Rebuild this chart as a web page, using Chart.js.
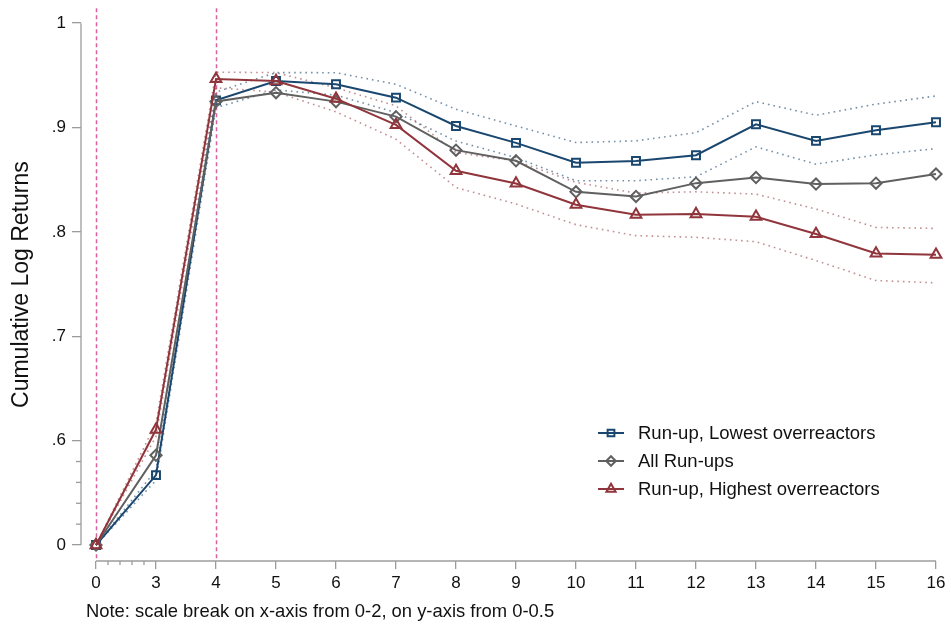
<!DOCTYPE html>
<html><head><meta charset="utf-8">
<script src="https://cdn.jsdelivr.net/npm/chart.js@4.4.0/dist/chart.umd.min.js"></script>
<style>html,body{margin:0;padding:0;background:#fff;}canvas{display:block;}</style>
</head><body>
<canvas id="c" width="951" height="624"></canvas>
<script>
// ---- data (x categories: event days; scale break between 0 and 2) ----
const xLabels = ['0','3','4','5','6','7','8','9','10','11','12','13','14','15','16'];
const lowest      = [0, 0.567, 0.926, 0.9445, 0.9414, 0.9286, 0.9015, 0.8853, 0.8662, 0.868, 0.8735, 0.9031, 0.8872, 0.8974, 0.905];
const lowestUpper = [0, 0.572, 0.934, 0.9526, 0.9525, 0.9414, 0.9175, 0.9015, 0.8856, 0.8872, 0.8951, 0.9248, 0.9118, 0.9224, 0.9302];
const lowestLower = [0, 0.562, 0.919, 0.936, 0.931, 0.9143, 0.887, 0.8712, 0.849, 0.849, 0.8528, 0.8815, 0.8649, 0.8738, 0.8798];
const allRunups   = [0, 0.586, 0.925, 0.9334, 0.9248, 0.9104, 0.8783, 0.8681, 0.8384, 0.834, 0.8467, 0.8521, 0.8458, 0.8467, 0.8554];
const highest      = [0, 0.6106, 0.9465, 0.9445, 0.9276, 0.9025, 0.8585, 0.8464, 0.826, 0.8164, 0.8171, 0.8145, 0.798, 0.7794, 0.7782];
const highestUpper = [0, 0.617, 0.953, 0.9526, 0.938, 0.9207, 0.876, 0.868, 0.8474, 0.8372, 0.8384, 0.8362, 0.8219, 0.8043, 0.8033];
const highestLower = [0, 0.604, 0.938, 0.934, 0.915, 0.8888, 0.8425, 0.8267, 0.8069, 0.7964, 0.7948, 0.7906, 0.7725, 0.7534, 0.7512];
const yTickValues = [0, 0.6, 0.7, 0.8, 0.9, 1];
const yTickLabels = ['0', '.6', '.7', '.8', '.9', '1'];
const xRefLines = ['0', '4'];
const seriesNames = ['Run-up, Lowest overreactors', 'All Run-ups', 'Run-up, Highest overreactors'];
const noteText = 'Note: scale break on x-axis from 0-2, on y-axis from 0-0.5';

// y scale break: values in [0, 0.5) are drawn at the break point 0.5
const Y_BREAK = 0.5;
const yb = v => (v < Y_BREAK ? Y_BREAK + v : v);
const pts = arr => arr.map((v, i) => ({x: i, y: yb(v)}));

const BLUE = '#1a476f', GRAY = '#606060', RED = '#90353b';
const BLUE_CI = 'rgba(26,71,111,0.6)', RED_CI = 'rgba(144,53,59,0.55)';
const AXIS = '#9c9c9c';
const FONT = "'Liberation Sans', Arial, Helvetica, sans-serif";

const ci = (arr, color) => ({data: pts(arr), borderColor: color, borderWidth: 1.6, borderDash: [1.6, 4],
  pointRadius: 0, fill: false, order: 10, clip: false, isCI: true});
const main = (arr, color, style, r, name, ord) => ({label: name, data: pts(arr), borderColor: color, borderWidth: 2,
  pointStyle: style, pointRadius: r, pointBorderWidth: 2, pointBorderColor: color,
  pointBackgroundColor: 'rgba(0,0,0,0)', fill: false, order: ord, clip: false});

const decor = {
  id: 'decor',
  beforeDatasetsDraw(chart) {
    const {ctx, chartArea: a, scales: {x}} = chart;
    ctx.save();
    ctx.strokeStyle = '#d9619f'; ctx.lineWidth = 1.5; ctx.setLineDash([4, 3]);
    xRefLines.forEach(l => {
      const px = Math.round(x.getPixelForValue(xLabels.indexOf(l))) + 0.5;
      ctx.beginPath(); ctx.moveTo(px, a.top); ctx.lineTo(px, a.bottom); ctx.stroke();
    });
    ctx.restore();
  },
  afterDraw(chart) {
    const {ctx, chartArea: a, scales: {x, y}} = chart;
    ctx.save();
    ctx.strokeStyle = AXIS; ctx.lineWidth = 1.3;
    // axis lines spanning tick range (Stata style)
    const yTop = y.getPixelForValue(yb(1)), yBot = y.getPixelForValue(yb(0));
    ctx.beginPath(); ctx.moveTo(a.left, yTop); ctx.lineTo(a.left, yBot); ctx.stroke();
    const xL = x.getPixelForValue(0), xR = x.getPixelForValue(xLabels.length - 1);
    ctx.beginPath(); ctx.moveTo(xL, a.bottom); ctx.lineTo(xR, a.bottom); ctx.stroke();
    // scale-break minor ticks
    for (let k = 1; k <= 4; k++) {
      const py = y.getPixelForValue(Y_BREAK + k * 0.02);
      ctx.beginPath(); ctx.moveTo(a.left - 5, py); ctx.lineTo(a.left, py); ctx.stroke();
      const px = x.getPixelForValue(k * 0.2);
      ctx.beginPath(); ctx.moveTo(px, a.bottom); ctx.lineTo(px, a.bottom + 4); ctx.stroke();
    }
    // legend
    const lg = chart.options.plugins.decor;
    const mains = chart.data.datasets.filter(d => !d.isCI);
    mains.forEach((d, i) => {
      const ly = lg.y + i * lg.gap;
      ctx.strokeStyle = d.borderColor; ctx.lineWidth = 2; ctx.setLineDash([]);
      ctx.beginPath(); ctx.moveTo(lg.x, ly); ctx.lineTo(lg.x + 26, ly); ctx.stroke();
      ctx.lineWidth = d.pointBorderWidth; ctx.fillStyle = 'rgba(0,0,0,0)';
      Chart.helpers.drawPoint(ctx, {pointStyle: d.pointStyle, radius: d.pointRadius * 0.85, rotation: 0, borderWidth: d.pointBorderWidth}, lg.x + 13, ly);
      ctx.fillStyle = '#111'; ctx.font = '18.5px ' + FONT; ctx.textBaseline = 'middle'; ctx.textAlign = 'left';
      ctx.fillText(d.label, lg.x + 40, ly + 1);
    });
    // note
    ctx.fillStyle = '#111'; ctx.font = '18.4px ' + FONT; ctx.textBaseline = 'alphabetic'; ctx.textAlign = 'left';
    ctx.fillText(noteText, 86, 617);
    ctx.restore();
  }
};

new Chart(document.getElementById('c'), {
  type: 'line',
  data: {datasets: [
    main(lowest, BLUE, 'rect', 5.6, seriesNames[0], 2),
    main(allRunups, GRAY, 'rectRot', 5.6, seriesNames[1], 1),
    main(highest, RED, 'triangle', 6.2, seriesNames[2], 0),
    ci(lowestUpper, BLUE_CI), ci(lowestLower, BLUE_CI),
    ci(highestUpper, RED_CI), ci(highestLower, RED_CI)
  ]},
  options: {
    responsive: false, animation: false, devicePixelRatio: 1,
    layout: {padding: {left: 0, right: 15, top: 3, bottom: 33}},
    plugins: {legend: {display: false}, tooltip: {enabled: false}, decor: {x: 598, y: 433, gap: 28}},
    scales: {
      x: {type: 'linear', min: -0.25, max: xLabels.length - 1,
        afterBuildTicks: s => { s.ticks = xLabels.map((l, i) => ({value: i})); },
        afterFit: s => { s.height = 30; s.paddingLeft = 0; s.paddingRight = 0; },
        border: {display: false},
        grid: {drawOnChartArea: false, drawTicks: true, tickLength: 8, color: AXIS, lineWidth: 1.3},
        ticks: {autoSkip: false, maxRotation: 0, padding: 4, color: '#111', font: {family: FONT, size: 17},
          callback: (v, i) => xLabels[i]}
      },
      y: {type: 'linear', min: 0.4847, max: 1.0143,
        afterBuildTicks: s => { s.ticks = yTickValues.map(v => ({value: yb(v)})); },
        afterFit: s => { s.width = 81; s.paddingTop = 0; s.paddingBottom = 0; },
        border: {display: false},
        grid: {drawOnChartArea: false, drawTicks: true, tickLength: 9, color: AXIS, lineWidth: 1.3},
        ticks: {padding: 6, color: '#111', font: {family: FONT, size: 17},
          callback: (v, i) => yTickLabels[i]},
        title: {display: true, text: 'Cumulative Log Returns', color: '#111', font: {family: FONT, size: 23},
          padding: {top: 8, bottom: 0}}
      }
    }
  },
  plugins: [decor]
});
</script>
</body></html>
